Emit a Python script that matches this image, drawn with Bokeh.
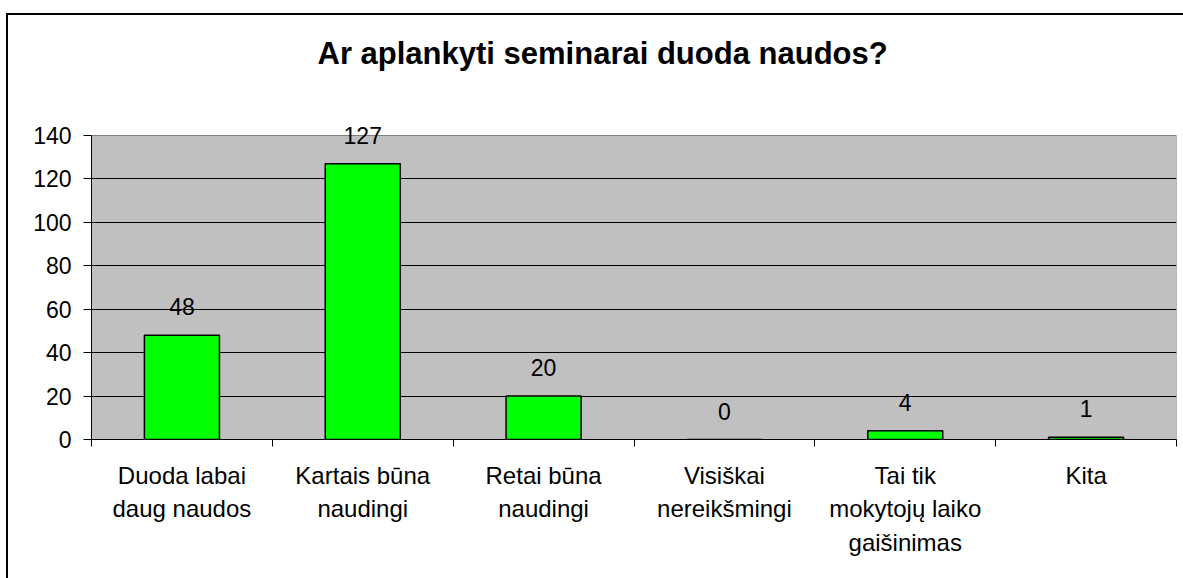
from bokeh.plotting import figure
from bokeh.models import ColumnDataSource, LabelSet, FixedTicker, Range1d
from bokeh.core.properties import value
from bokeh.embed import file_html
from bokeh.resources import INLINE

title_text = "Ar aplankyti seminarai duoda naudos?"
categories = ["Duoda labai\ndaug naudos", "Kartais būna\nnaudingi", "Retai būna\nnaudingi",
              "Visiškai\nnereikšmingi", "Tai tik\nmokytojų laiko\ngaišinimas", "Kita"]
values = [48, 127, 20, 0, 4, 1]
y_ticks = [0, 20, 40, 60, 80, 100, 120, 140]

FONT = "Liberation Sans"
n = len(categories)
y_max = y_ticks[-1]

# layout (pixels)
W, H = 1183, 578
frame_left, frame_right = 91, 1176
plot_top, plot_bottom = 135, 439      # where y_max and 0 sit
frame_top = 100                        # frame extends a bit above y_max (room for labels)
y_top = y_max * (plot_bottom - frame_top) / (plot_bottom - plot_top)

xs = [i + 0.5 for i in range(n)]
src = ColumnDataSource(dict(x=xs, top=values, label=[str(v) for v in values]))

p = figure(width=W, height=H, output_backend="svg", toolbar_location=None,
           x_range=Range1d(0, n), y_range=Range1d(0, y_top),
           min_border_left=frame_left, min_border_right=W - frame_right,
           min_border_top=frame_top, min_border_bottom=H - plot_bottom)

# chart border (left + top, the rest runs past the window) drawn behind a transparent canvas
p.styles = {"background": "linear-gradient(#000,#000) 6px 13px / 2px 2000px no-repeat, "
                          "linear-gradient(#000,#000) 6px 13px / 3000px 2px no-repeat, #ffffff"}
p.border_fill_color = None
p.background_fill_color = None
p.outline_line_color = None

p.title.text = title_text
p.title.align = "left"
p.title.offset = 226
p.title.text_font = FONT
p.title.text_font_size = "31px"
p.title.text_font_style = "bold"
p.title.text_color = "black"
p.title.standoff = 60

# grey plot area
p.quad(left=[0], right=[n], bottom=[0], top=[y_max], fill_color="#C0C0C0",
       line_color="#808080", line_width=1, level="image")

p.vbar(x="x", top="top", width=0.415, bottom=0, source=src,
       fill_color="#00FF00", line_color="black", line_width=1.5)

labels = LabelSet(x="x", y="top", text="label", source=src, text_align="center",
                  text_baseline="alphabetic", y_offset=20,
                  text_font=value(FONT), text_font_size=value("23px"), text_color="black")
p.add_layout(labels)

# y axis
p.yaxis.ticker = FixedTicker(ticks=y_ticks)
p.yaxis.bounds = (0, y_max)
p.yaxis.major_label_text_font = FONT
p.yaxis.major_label_text_font_size = "23px"
p.yaxis.major_label_text_color = "black"
p.yaxis.major_tick_out = 8
p.yaxis.major_tick_in = 0
p.yaxis.minor_tick_line_color = None
p.yaxis.axis_line_color = "black"
p.yaxis.major_tick_line_color = "black"
p.yaxis.major_label_standoff = 12

# x axis: labels at centres, ticks between categories
p.xaxis.ticker = FixedTicker(ticks=xs, minor_ticks=list(range(n + 1)))
p.xaxis.major_label_overrides = {x: c for x, c in zip(xs, categories)}
p.xaxis.major_tick_line_color = None
p.xaxis.minor_tick_out = 7
p.xaxis.minor_tick_in = 0
p.xaxis.minor_tick_line_color = "black"
p.xaxis.axis_line_color = "black"
p.xaxis.major_label_text_font = FONT
p.xaxis.major_label_text_font_size = "24px"
p.xaxis.major_label_text_color = "black"
p.xaxis.major_label_text_line_height = 1.25
p.xaxis.major_label_standoff = 15

p.xgrid.grid_line_color = None
p.ygrid.grid_line_color = "black"
p.ygrid.grid_line_width = 1
p.ygrid.ticker = FixedTicker(ticks=y_ticks[:-1])

open("out.html", "w").write(file_html(p, INLINE))
